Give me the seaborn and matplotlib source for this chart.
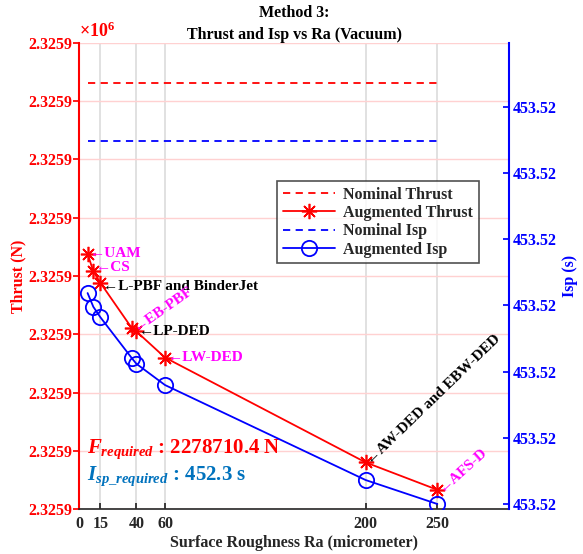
import matplotlib
matplotlib.use("Agg")
import matplotlib.pyplot as plt
import seaborn as sns
import numpy as np

# data
ra = [6, 10, 15, 37, 40, 60, 200, 250]
thrust = [2325914.38, 2325914.08, 2325913.88, 2325913.10, 2325913.05, 2325912.60, 2325910.80, 2325910.33]
isp = [453.521694, 453.521590, 453.521510, 453.521200, 453.521160, 453.520999, 453.520281, 453.520100]
nominal_x = [6, 250]
nominal_thrust = 2325917.31
nominal_isp = 453.522843
labels = ["UAM", "CS", "L-PBF and BinderJet", "EB-PBF", "LP-DED", "LW-DED",
          "AW-DED and EBW-DED", "AFS-D"]
label_colors = ["magenta", "magenta", "black", "magenta", "black", "magenta", "black", "magenta"]
label_rot = [0, 0, 0, 35, 0, 0, 44, 42]
xticks = [0, 15, 40, 60, 200, 250]

sns.set_theme(style="white")
plt.rcParams['font.family'] = ['Liberation Serif', 'DejaVu Serif']
plt.rcParams['font.weight'] = 'bold'
plt.rcParams['mathtext.fontset'] = 'custom'
plt.rcParams['mathtext.rm'] = 'Liberation Serif'
plt.rcParams['mathtext.it'] = 'Liberation Serif:italic:bold'
plt.rcParams['mathtext.bf'] = 'Liberation Serif:bold'

fig = plt.figure(figsize=(5.83, 5.54), dpi=100)
ax = fig.add_axes([0.1355, 0.0812, 0.7376, 0.8412])
ax2 = ax.twinx()

red = (1, 0, 0)
blue = (0, 0, 1)
dark = '#262626'

# left axis: thrust
sns.lineplot(x=nominal_x, y=[nominal_thrust] * 2, ax=ax, color=red, linewidth=1.3,
             linestyle=(0, (4, 3)), label="Nominal Thrust", legend=False)
sns.lineplot(x=ra, y=thrust, ax=ax, color=red, linewidth=1.3, marker=(8, 2, 0),
             markersize=11, markeredgecolor=red, markeredgewidth=1.2,
             label="Augmented Thrust", legend=False)

# right axis: Isp
sns.lineplot(x=nominal_x, y=[nominal_isp] * 2, ax=ax2, color=blue, linewidth=1.3,
             linestyle=(0, (4, 3)), label="Nominal Isp", legend=False)
sns.lineplot(x=ra, y=isp, ax=ax2, color=blue, linewidth=1.3, marker='o',
             markersize=11, markerfacecolor='none', markeredgecolor=blue,
             markeredgewidth=1.3, label="Augmented Isp", legend=False)

ax.set_xlim(0, 300)
ax.set_ylim(2325910.0, 2325918.0)
ax.set_yticks(np.arange(2325910.0, 2325918.5, 1.0))
ax.yaxis.set_major_formatter(matplotlib.ticker.FuncFormatter(lambda v, p: f"{v / 1e6:.4f}"))
ax2.set_ylim(453.5200622, 453.5235835)
ax2.set_yticks([453.5201 + 0.0005 * k for k in range(7)])
ax2.yaxis.set_major_formatter(matplotlib.ticker.FuncFormatter(lambda v, p: f"{v:.2f}"))
ax.set_xticks(xticks)

ax.grid(False)
ax2.grid(False)
ax.xaxis.grid(True, color='#dcdcdc', linewidth=1.2)
ax.yaxis.grid(True, color=(1, 0.82, 0.82), linewidth=1.0)
ax.set_axisbelow(True)

ax.spines['top'].set_visible(False)
ax2.spines['top'].set_visible(False)
ax.spines['left'].set_color(red)
ax.spines['left'].set_linewidth(1.5)
ax.spines['bottom'].set_color(dark)
ax.spines['bottom'].set_linewidth(1.2)
ax.spines['right'].set_visible(False)
ax2.spines['left'].set_visible(False)
ax2.spines['bottom'].set_visible(False)
ax2.spines['right'].set_color(blue)
ax2.spines['right'].set_linewidth(1.5)

ax.tick_params(axis='y', colors=red, labelsize=11.5, direction='out', length=4, pad=1, left=True)
ax.tick_params(axis='x', colors=dark, labelsize=11.5, direction='in', length=4, pad=5, bottom=True)
ax2.tick_params(axis='y', colors=blue, labelsize=11.5, direction='in', length=4, pad=3, right=True)
for t in ax.get_yticklabels() + ax.get_xticklabels() + ax2.get_yticklabels():
    t.set_fontweight('bold')

ax.set_ylabel("Thrust (N)", color=red, fontsize=11.5, fontweight='bold')
ax2.set_ylabel("Isp (s)", color=blue, fontsize=11.5, fontweight='bold')
ax.yaxis.set_label_coords(-0.123, 0.5)
ax2.yaxis.set_label_coords(1.123, 0.5)
ax.set_xlabel("Surface Roughness Ra (micrometer)", color=dark, fontsize=11.5,
              fontweight='bold', labelpad=2)
ax.set_title("Method 3:\nThrust and Isp vs Ra (Vacuum)", fontsize=11.5,
             fontweight='bold', color='black', pad=3, linespacing=1.45)

ax.text(0.0, 1.004, r'$\times10^{6}$', transform=ax.transAxes, color=red,
        fontsize=13, ha='left', va='bottom')

# point labels (CS / L-PBF nudged apart a little so they don't collide)
nudge = {1: 2.5, 2: -2.5}
for i, (xv, yv, lab, c, r) in enumerate(zip(ra, thrust, labels, label_colors, label_rot)):
    ax.annotate("\u2190" + lab, xy=(xv, yv), xytext=(2, nudge.get(i, 0)),
                textcoords='offset points', color=c, fontsize=11, fontweight='bold',
                ha='left', va='center', rotation=r, rotation_mode='anchor')

ax.text(0.018, 0.128, r'$\mathit{F}_{\mathit{required}}$ : 2278710.4 N',
        transform=ax.transAxes, color=red, fontsize=15, fontweight='bold',
        ha='left', va='center')
ax.text(0.018, 0.071, r'$\mathit{I}_{\mathit{sp\_required}}$ : 452.3 s',
        transform=ax.transAxes, color='#0072BD', fontsize=15, fontweight='bold',
        ha='left', va='center')

h1, l1 = ax.get_legend_handles_labels()
h2, l2 = ax2.get_legend_handles_labels()
leg = ax2.legend(h1 + h2, l1 + l2, loc='upper left', bbox_to_anchor=(0.4605, 0.704),
                 borderaxespad=0, frameon=True, fancybox=False, fontsize=11.5,
                 handlelength=3.3, borderpad=0.35, labelspacing=0.15, handletextpad=0.5)
leg.get_frame().set_edgecolor(dark)
leg.get_frame().set_linewidth(1.2)
for t in leg.get_texts():
    t.set_fontweight('bold')

fig.savefig("out.png", dpi=100)
